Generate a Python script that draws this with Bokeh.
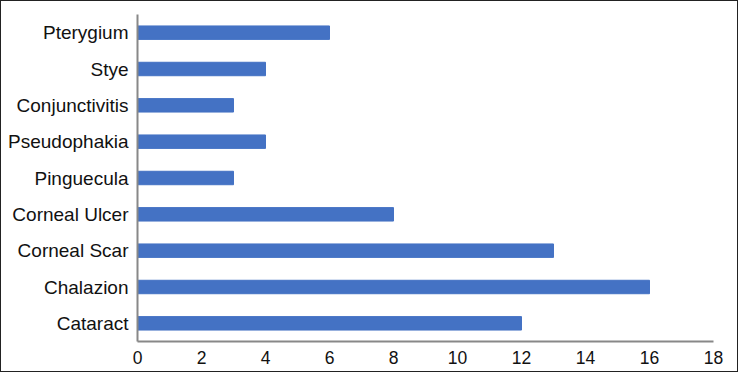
from bokeh.plotting import figure
from bokeh.embed import file_html
from bokeh.resources import INLINE
from bokeh.models import FixedTicker, ColumnDataSource

categories = ["Pterygium", "Stye", "Conjunctivitis", "Pseudophakia", "Pinguecula",
              "Corneal Ulcer", "Corneal Scar", "Chalazion", "Cataract"]
counts = [6, 4, 3, 4, 3, 8, 13, 16, 12]
x_ticks = [0, 2, 4, 6, 8, 10, 12, 14, 16, 18]

source = ColumnDataSource(data=dict(cat=categories, val=counts))

p = figure(y_range=list(reversed(categories)), x_range=(0, 18),
           width=738, height=372, output_backend="svg", toolbar_location=None,
           min_border_left=136, min_border_right=26, min_border_top=13, min_border_bottom=32)
p.styles = {"border": "1px solid #222"}

p.hbar(y="cat", right="val", left=0, height=0.37, source=source, color="#4472C4")

p.outline_line_color = None
p.xgrid.grid_line_color = None
p.ygrid.grid_line_color = None

for ax in (p.xaxis, p.yaxis):
    ax.axis_line_color = "#888888"
    ax.axis_line_width = 2
    ax.major_tick_line_color = None
    ax.minor_tick_line_color = None
    ax.major_label_text_font = "Liberation Sans"
    ax.major_label_text_color = "#111111"

p.xaxis.ticker = FixedTicker(ticks=x_ticks)
p.xaxis.major_label_text_font_size = "17.5px"
p.xaxis.major_label_standoff = 3
p.yaxis.major_label_text_font_size = "19px"
p.yaxis.major_label_standoff = 3

open("out.html", "w").write(file_html(p, INLINE))
